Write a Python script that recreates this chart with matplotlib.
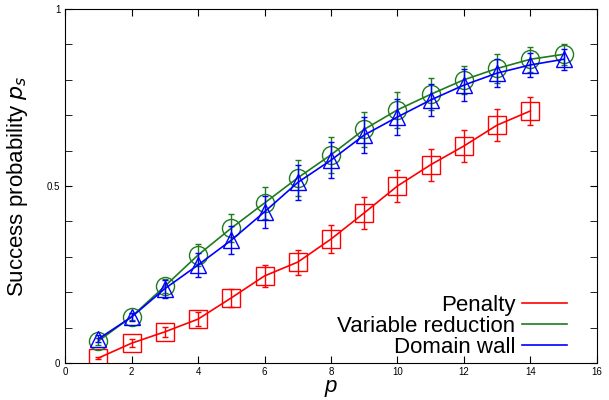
import matplotlib.pyplot as plt
from matplotlib.lines import Line2D

plt.rcParams['font.family'] = ['Liberation Sans', 'DejaVu Sans']

p_pen = [1, 2, 3, 4, 5, 6, 7, 8, 9, 10, 11, 12, 13, 14]
ps_pen = [0.014, 0.056, 0.088, 0.124, 0.184, 0.246, 0.285, 0.35, 0.424, 0.50, 0.56, 0.613, 0.672, 0.712]
err_pen = [0.004, 0.012, 0.015, 0.02, 0.025, 0.03, 0.035, 0.04, 0.045, 0.045, 0.045, 0.045, 0.045, 0.04]

p_var = [1, 2, 3, 4, 5, 6, 7, 8, 9, 10, 11, 12, 13, 14, 15]
ps_var = [0.062, 0.131, 0.217, 0.305, 0.381, 0.452, 0.523, 0.588, 0.66, 0.715, 0.759, 0.80, 0.832, 0.858, 0.872]
err_var = [0.01, 0.01, 0.02, 0.03, 0.04, 0.045, 0.05, 0.05, 0.05, 0.05, 0.045, 0.04, 0.04, 0.035, 0.03]

p_dw = [1, 2, 3, 4, 5, 6, 7, 8, 9, 10, 11, 12, 13, 14, 15]
ps_dw = [0.068, 0.13, 0.21, 0.277, 0.347, 0.427, 0.51, 0.573, 0.644, 0.695, 0.743, 0.785, 0.819, 0.842, 0.858]
err_dw = [0.01, 0.01, 0.025, 0.035, 0.04, 0.045, 0.05, 0.05, 0.05, 0.05, 0.045, 0.045, 0.04, 0.035, 0.03]

red = '#ff0000'
green = '#1e7b1e'
blue = '#0000ff'

fig = plt.figure(figsize=(6.09, 4), dpi=100)
ax = fig.add_axes([0.107, 0.0925, 0.873, 0.885])

series = [
    (p_pen, ps_pen, err_pen, red, 's', 13),
    (p_var, ps_var, err_var, green, 'o', 13),
    (p_dw, ps_dw, err_dw, blue, '^', 12),
]
for x, y, e, c, m, ms in series:
    ax.plot(x, y, color=c, lw=1.2)
    ax.errorbar(x, y, yerr=e, fmt='none', ecolor=c, elinewidth=1.0, capsize=2)
    ax.plot(x, y, ls='none', marker=m, ms=ms, mfc='none', mec=c, mew=1.0)

ax.set_xlim(0, 16)
ax.set_ylim(0, 1)
ax.set_xticks(range(0, 17, 2))
ax.set_yticks([0, 0.5, 1])
ax.set_yticklabels(['0', '0.5', '1'])
ax.set_yticks([i / 10 for i in range(11)], minor=True)
ax.tick_params(which='both', direction='in', top=True, right=True, labelsize=7, length=5)
ax.tick_params(which='minor', length=5)
ax.tick_params(axis='x', pad=3)

ax.set_xlabel('p', fontsize=16, style='italic', labelpad=-1)
ax.set_ylabel('Success probability $p_s$', fontsize=16, labelpad=12)

handles = [Line2D([], [], color=red, lw=1.2),
           Line2D([], [], color=green, lw=1.2),
           Line2D([], [], color=blue, lw=1.2)]
ax.legend(handles, ['Penalty', 'Variable reduction', 'Domain wall'],
          loc='lower right', frameon=False, markerfirst=False, fontsize=16,
          labelspacing=0.0, handlelength=2.0, handletextpad=0.3,
          borderaxespad=0.0, bbox_to_anchor=(0.96, -0.01))

fig.savefig('out.png', dpi=100)
